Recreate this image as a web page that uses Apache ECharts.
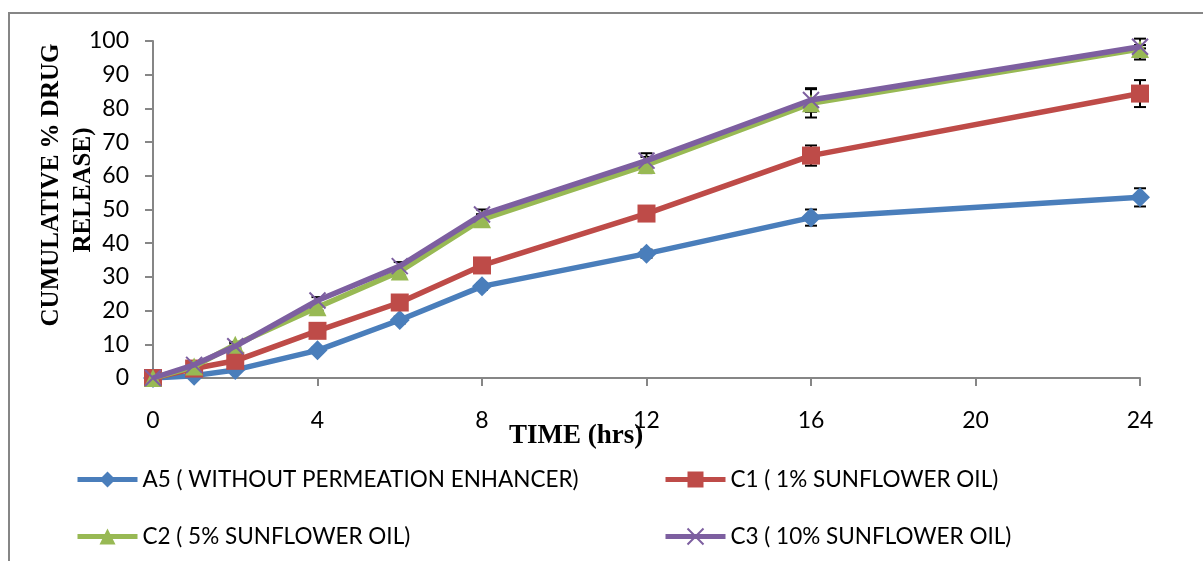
<!DOCTYPE html>
<html>
<head>
<meta charset="utf-8">
<script src="https://cdn.jsdelivr.net/npm/echarts@6/dist/echarts.min.js"></script>
<style>html,body{margin:0;padding:0;background:#fff}#c{width:1203px;height:561px}</style>
</head>
<body>
<div id="c"></div>
<script>
const times = [0, 1, 2, 4, 6, 8, 12, 16, 24];
const xTicks = [0, 4, 8, 12, 16, 20, 24];
const seriesNames = ['A5 ( WITHOUT PERMEATION ENHANCER)', 'C1 ( 1% SUNFLOWER OIL)', 'C2 ( 5% SUNFLOWER OIL)', 'C3 ( 10% SUNFLOWER OIL)'];
const a5 = [0, 0.7, 2.4, 8.2, 17.2, 27.2, 36.9, 47.6, 53.6];
const c1 = [0, 2.8, 5.1, 14.0, 22.4, 33.4, 48.8, 66.0, 84.4];
const c2 = [0, 3.4, 9.9, 21.0, 31.6, 47.1, 63.2, 81.5, 97.6];
const c3 = [0, 3.9, 9.4, 23.0, 33.2, 48.5, 64.5, 82.5, 98.3];
const a5Err = [0, 0.3, 0.5, 0.8, 1.0, 1.0, 1.2, 2.4, 2.7];
const c1Err = [0, 0.5, 0.6, 1.0, 1.2, 1.2, 1.5, 3.0, 4.0];
const c2Err = [0, 0.5, 0.8, 1.0, 1.2, 1.5, 2.4, 4.2, 3.1];
const c3Err = [0, 0.5, 0.8, 1.0, 1.2, 1.5, 2.2, 3.5, 0.5];

const colors = ['#4A7EBB', '#BE4B48', '#98B954', '#7D5FA0'];
const symbols = ['diamond', 'rect', 'triangle', 'path://M0,0L10,10M10,0L0,10'];
const symbolSizes = [20, 18, 18, 16];
const values = [a5, c1, c2, c3];
const errs = [a5Err, c1Err, c2Err, c3Err];

const chart = echarts.init(document.getElementById('c'), null, {renderer: 'canvas'});
const FONT = 'Lato';

const lineSeries = values.map((v, i) => ({
  name: seriesNames[i],
  type: 'line',
  data: times.map((t, k) => [t, v[k]]),
  symbol: symbols[i],
  symbolSize: symbolSizes[i],
  lineStyle: {color: colors[i], width: 5.5},
  itemStyle: i === 3 ? {color: colors[i], borderColor: colors[i], borderWidth: 2} : {color: colors[i], borderWidth: 0},
  z: 3 + i,
  animation: false
}));

const errSeries = values.map((v, i) => ({
  type: 'custom',
  name: 'err' + i,
  data: times.map((t, k) => [t, v[k] - errs[i][k], v[k] + errs[i][k]]),
  renderItem: function (params, api) {
    const x = api.value(0);
    const lo = api.coord([x, api.value(1)]);
    const hi = api.coord([x, api.value(2)]);
    const w = 6;
    const st = {stroke: '#000', lineWidth: 2};
    return {
      type: 'group',
      children: [
        {type: 'line', shape: {x1: lo[0], y1: lo[1], x2: hi[0], y2: hi[1]}, style: st},
        {type: 'line', shape: {x1: lo[0] - w, y1: lo[1], x2: lo[0] + w, y2: lo[1]}, style: st},
        {type: 'line', shape: {x1: hi[0] - w, y1: hi[1], x2: hi[0] + w, y2: hi[1]}, style: st}
      ]
    };
  },
  z: 2,
  animation: false,
  silent: true
}));

const legendPos = [[75, 468], [663, 468], [75, 525], [663, 525]];
const legends = seriesNames.map((n, i) => ({
  data: [n],
  left: legendPos[i][0],
  top: legendPos[i][1],
  padding: 0,
  itemWidth: 60,
  itemHeight: 20,
  itemGap: 0,
  lineStyle: {width: 5},
  textStyle: {fontFamily: FONT, fontSize: 22.5, color: '#000'},
  selectedMode: false
}));

chart.setOption({
  animation: false,
  backgroundColor: '#fff',
  grid: {left: 153, right: 63, top: 41, bottom: 183, containLabel: false},
  legend: legends,
  xAxis: {
    type: 'value',
    min: 0, max: 24, interval: 4,
    axisLine: {show: true, lineStyle: {color: '#868686', width: 2}},
    axisTick: {show: true, length: 8, lineStyle: {color: '#868686', width: 2}},
    splitLine: {show: false},
    axisLabel: {margin: 31, fontFamily: FONT, fontSize: 23, color: '#000',
      formatter: v => xTicks.includes(v) ? String(v) : ''}
  },
  yAxis: {
    type: 'value',
    min: 0, max: 100, interval: 10,
    axisLine: {show: true, lineStyle: {color: '#868686', width: 2}},
    axisTick: {show: true, length: 8, lineStyle: {color: '#868686', width: 2}},
    splitLine: {show: false},
    axisLabel: {margin: 24, fontFamily: FONT, fontSize: 23, color: '#000'}
  },
  graphic: [
    {type: 'rect', shape: {x: 9, y: 13, width: 1400, height: 800}, style: {fill: 'none', stroke: '#868686', lineWidth: 2}, z: -10, silent: true},
    {type: 'text', x: 52, y: 185, rotation: Math.PI / 2,
      style: {text: 'CUMULATIVE % DRUG', font: 'bold 25px "Liberation Serif"', fill: '#000', textAlign: 'center', textVerticalAlign: 'middle'}},
    {type: 'text', x: 84, y: 190, rotation: Math.PI / 2,
      style: {text: 'RELEASE)', font: 'bold 25px "Liberation Serif"', fill: '#000', textAlign: 'center', textVerticalAlign: 'middle'}},
    {type: 'text', x: 576, y: 436,
      style: {text: 'TIME (hrs)', font: 'bold 27px "Liberation Serif"', fill: '#000', textAlign: 'center', textVerticalAlign: 'middle'}}
  ],
  series: errSeries.concat(lineSeries)
});
</script>
</body>
</html>
